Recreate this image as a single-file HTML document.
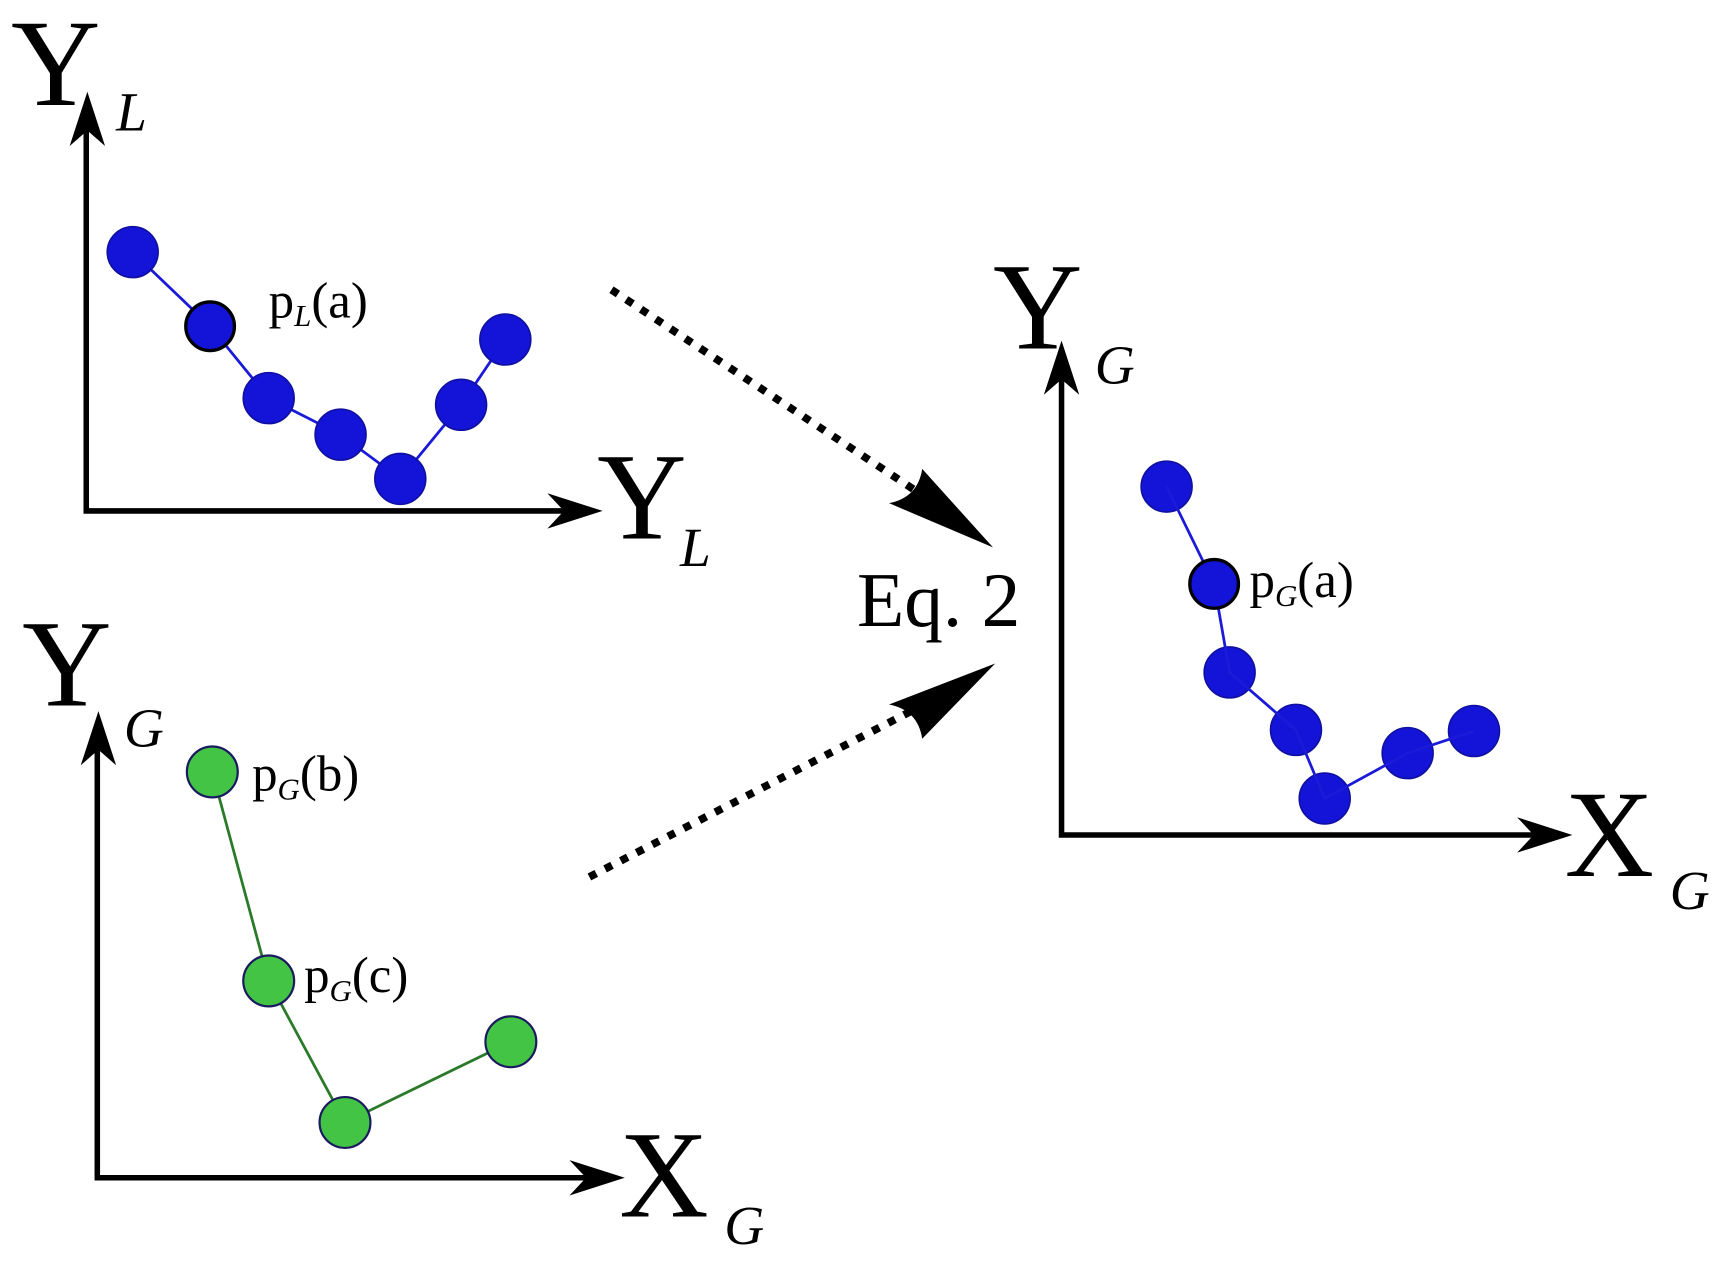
<!DOCTYPE html>
<html><head><meta charset="utf-8"><style>html,body{margin:0;padding:0;background:#fff}svg{display:block}</style></head>
<body>
<svg width="1725" height="1274" viewBox="0 0 1560 1152" preserveAspectRatio="none" xmlns="http://www.w3.org/2000/svg" font-family="Liberation Serif, serif">
<g stroke="#000" stroke-width="5" fill="none">
<polyline points="78,95 78,462 525,462"/>
<polyline points="960,320 960,755 1408,755"/>
<polyline points="88,655 88,1065 550,1065"/>
</g>
<g fill="#000">
<path d="M79,83 L95,132 L79,118 L63,132 Z"/>
<path d="M545,462 L495,478 L510,462 L495,446 Z"/>
<path d="M960,308 L976,357 L960,343 L944,357 Z"/>
<path d="M1422,755 L1372,771 L1387,755 L1372,739 Z"/>
<path d="M89,643 L105,692 L89,678 L73,692 Z"/>
<path d="M565,1065 L515,1081 L530,1065 L515,1049 Z"/>
<path d="M898,495 L804,455 Q830,450 834,424 Z"/>
<path d="M900,600 L834,668 Q830,642 804,637 Z"/>
</g>
<g stroke="#000" stroke-width="7" stroke-dasharray="7,9" fill="none">
<line x1="553" y1="262" x2="830" y2="445"/>
<line x1="533" y1="793" x2="830" y2="640"/>
</g>
<polyline points="120,228 190,295 243,360 308,393 362,433 417,366 457,307" stroke="#1a1ad8" stroke-width="2.5" fill="none"/>
<g fill="#1414d8" stroke="#1010a0" stroke-width="1.5">
<circle cx="120" cy="228" r="23"/>
<circle cx="243" cy="360" r="23"/>
<circle cx="308" cy="393" r="23"/>
<circle cx="362" cy="433" r="23"/>
<circle cx="417" cy="366" r="23"/>
<circle cx="457" cy="307" r="23"/>
<circle cx="1055" cy="440" r="23"/>
<circle cx="1112" cy="608" r="23"/>
<circle cx="1172" cy="660" r="23"/>
<circle cx="1198" cy="722" r="23"/>
<circle cx="1273" cy="681" r="23"/>
<circle cx="1333" cy="661" r="23"/>
</g>
<polyline points="1055,440 1098,528 1112,608 1172,660 1198,722 1273,681 1333,661" stroke="#1a1ad8" stroke-width="2.5" fill="none"/>
<g fill="#1414d8" stroke="#000" stroke-width="3">
<circle cx="190" cy="295" r="22"/>
<circle cx="1098" cy="528" r="22"/>
</g>
<polyline points="192,698 243,887 312,1015 462,942" stroke="#2a7a2a" stroke-width="2.5" fill="none"/>
<g fill="#44c444" stroke="#1a1a60" stroke-width="2">
<circle cx="192" cy="698" r="23"/>
<circle cx="243" cy="887" r="23"/>
<circle cx="312" cy="1015" r="23"/>
<circle cx="462" cy="942" r="23"/>
</g>
<g fill="#000">
<text x="10" y="95" font-size="112">Y</text>
<text x="105" y="118" font-size="50" font-style="italic">L</text>
<text x="540" y="487" font-size="112">Y</text>
<text x="615" y="512" font-size="50" font-style="italic">L</text>
<text x="243" y="287" font-size="46">p<tspan font-size="28" font-style="italic" dy="8">L</tspan><tspan dy="-8">(a)</tspan></text>
<text x="775" y="566" font-size="70">Eq. 2</text>
<text x="898" y="315" font-size="112">Y</text>
<text x="990" y="347" font-size="50" font-style="italic">G</text>
<text x="1130" y="540" font-size="46">p<tspan font-size="28" font-style="italic" dy="8">G</tspan><tspan dy="-8">(a)</tspan></text>
<text x="1415" y="792" font-size="112">X</text>
<text x="1510" y="822" font-size="50" font-style="italic">G</text>
<text x="20" y="638" font-size="112">Y</text>
<text x="112" y="675" font-size="50" font-style="italic">G</text>
<text x="228" y="715" font-size="46">p<tspan font-size="28" font-style="italic" dy="8">G</tspan><tspan dy="-8">(b)</tspan></text>
<text x="275" y="897" font-size="46">p<tspan font-size="28" font-style="italic" dy="8">G</tspan><tspan dy="-8">(c)</tspan></text>
<text x="560" y="1100" font-size="112">X</text>
<text x="655" y="1125" font-size="50" font-style="italic">G</text>
</g>
</svg>
</body></html>
